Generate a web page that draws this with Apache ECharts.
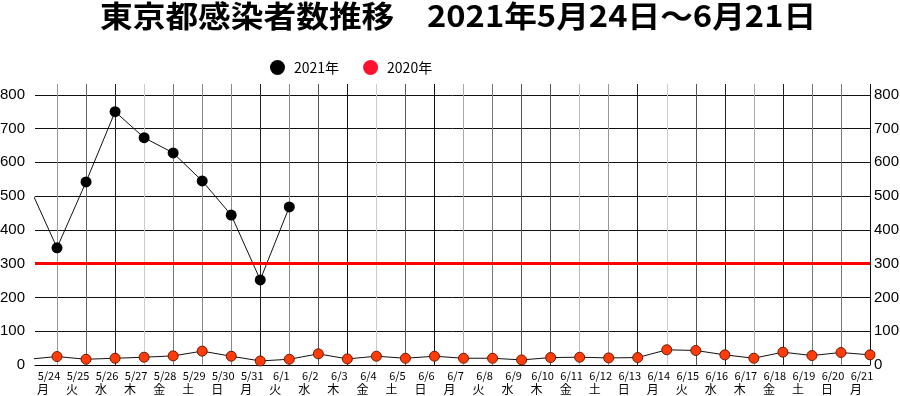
<!DOCTYPE html>
<html>
<head>
<meta charset="utf-8">
<script src="https://cdn.jsdelivr.net/npm/echarts@6/dist/echarts.min.js"></script>
<style>html,body{margin:0;padding:0;background:#fff;}#c{width:900px;height:396px;}</style>
</head>
<body>
<div id="c"></div>
<script>
// ---- data ----
const titleText = '東京都感染者数推移　2021年5月24日～6月21日';
// dates incl. 5/23 (partly visible at the left edge)
const dates = ['5/23','5/24','5/25','5/26','5/27','5/28','5/29','5/30','5/31','6/1','6/2','6/3','6/4','6/5','6/6','6/7','6/8','6/9','6/10','6/11','6/12','6/13','6/14','6/15','6/16','6/17','6/18','6/19','6/20','6/21'];
const weekdays = ['日','月','火','水','木','金','土','日','月','火','水','木','金','土','日','月','火','水','木','金','土','日','月','火','水','木','金','土','日','月'];
const cases2021 = [537, 347, 542, 750, 673, 628, 545, 444, 252, 468];
const cases2020 = [17, 25, 17, 20, 23, 27, 41, 26, 12, 17, 33, 18, 26, 20, 26, 20, 20, 15, 22, 23, 21, 22, 45, 43, 30, 20, 38, 28, 37, 30];
const yTicks = [0, 100, 200, 300, 400, 500, 600, 700, 800];
const alertLevel = 300;

// ---- styles (vertical grid line shades, per day from 5/24) ----
const vLineColors = ['#999','#666','#222','#ccc','#777','#888','#888','#222','#888','#555','#111','#ccc','#555','#111','#aaa','#777','#555','#555','#bbb','#999','#222','#ccc','#555','#222','#aaa','#222','#777','#777','#111'];

const labelDates = dates.slice(1);
const labelWeek = weekdays.slice(1);
const s2021 = cases2021.map((v, i) => [i - 1, v]);
const s2020 = cases2020.map((v, i) => [i - 1, v]);

const yLabel = {
  fontFamily: '"Liberation Sans", Arial, sans-serif',
  fontSize: 15,
  color: function (v) { return v === alertLevel ? '#ff2020' : '#000'; },
  formatter: function (v) { return yTicks.indexOf(v) >= 0 ? String(v) : ''; },
  showMaxLabel: false
};

const chart = echarts.init(document.getElementById('c'), null, { renderer: 'canvas' });
chart.setOption({
  animation: false,
  backgroundColor: '#fff',
  graphic: [{
    type: 'text', x: 100, y: 1, scaleX: 1.09, scaleY: 1,
    style: { text: titleText, font: 'bold 30px "Noto Sans CJK JP"', fill: '#000' }
  }],
  legend: {
    data: [
      { name: '2021年', itemStyle: { color: '#000', borderWidth: 0 } },
      { name: '2020年', itemStyle: { color: '#ff1030', borderWidth: 0 } }
    ],
    left: 265, top: 55, icon: 'circle', itemWidth: 15, itemHeight: 15,
    itemGap: 24, textStyle: { fontSize: 14, fontFamily: '"Noto Sans CJK JP"', color: '#000', padding: [0, 0, 0, 4] }
  },
  grid: [
    { left: 35, right: 30, top: 84, bottom: 31, containLabel: false, outerBoundsMode: 'none' },
    { left: 57, right: 30, top: 84, bottom: 31, containLabel: false, outerBoundsMode: 'none' }
  ],
  xAxis: [
    { type: 'value', gridIndex: 0, min: -0.758, max: 28,
      axisLine: { show: true, lineStyle: { color: '#000', width: 1 } },
      axisTick: { show: false }, axisLabel: { show: false }, splitLine: { show: false } },
    { type: 'category', gridIndex: 1, data: labelDates, boundaryGap: false,
      axisLine: { show: false }, axisTick: { show: false },
      splitLine: { show: true, lineStyle: { color: vLineColors, width: 1 } },
      axisLabel: { interval: 0, margin: 5, padding: [0, 16, 0, 0],
        formatter: function (v, i) { return '{d|' + v + '}\n{w|' + labelWeek[i] + '}'; },
        rich: {
          d: { fontSize: 11, lineHeight: 12, fontFamily: '"Noto Sans CJK JP"', color: '#000' },
          w: { fontSize: 12, lineHeight: 14, fontFamily: '"Noto Sans CJK JP"', color: '#000', padding: [0, 12, 0, 0] }
        } } }
  ],
  yAxis: [
    { type: 'value', gridIndex: 0, position: 'left', min: 0, max: 832, interval: 100,
      axisLine: { show: false }, axisTick: { show: false },
      axisLabel: Object.assign({ margin: 10 }, yLabel),
      splitLine: { show: true, showMaxLine: false, lineStyle: { color: '#111', width: 1 } } },
    { type: 'value', gridIndex: 0, position: 'right', min: 0, max: 832, interval: 100,
      axisLine: { show: false }, axisTick: { show: false },
      axisLabel: Object.assign({ margin: 4 }, yLabel),
      splitLine: { show: false } },
    { type: 'value', gridIndex: 1, show: false, min: 0, max: 1 }
  ],
  series: [
    { name: '2020年', type: 'line', xAxisIndex: 0, yAxisIndex: 0, data: s2020,
      symbol: 'circle', symbolSize: 10, z: 3,
      lineStyle: { color: '#111', width: 1 },
      itemStyle: { color: '#ff3c0a', borderColor: '#6a1a00', borderWidth: 1 },
      markLine: { silent: true, symbol: 'none', label: { show: false },
        lineStyle: { color: '#ff0000', width: 3, type: 'solid' },
        data: [{ yAxis: alertLevel }] } },
    { name: '2021年', type: 'line', xAxisIndex: 0, yAxisIndex: 0, data: s2021,
      symbol: 'circle', symbolSize: 11, z: 4,
      lineStyle: { color: '#111', width: 1 },
      itemStyle: { color: '#000', borderWidth: 0 } }
  ]
});
</script>
</body>
</html>
